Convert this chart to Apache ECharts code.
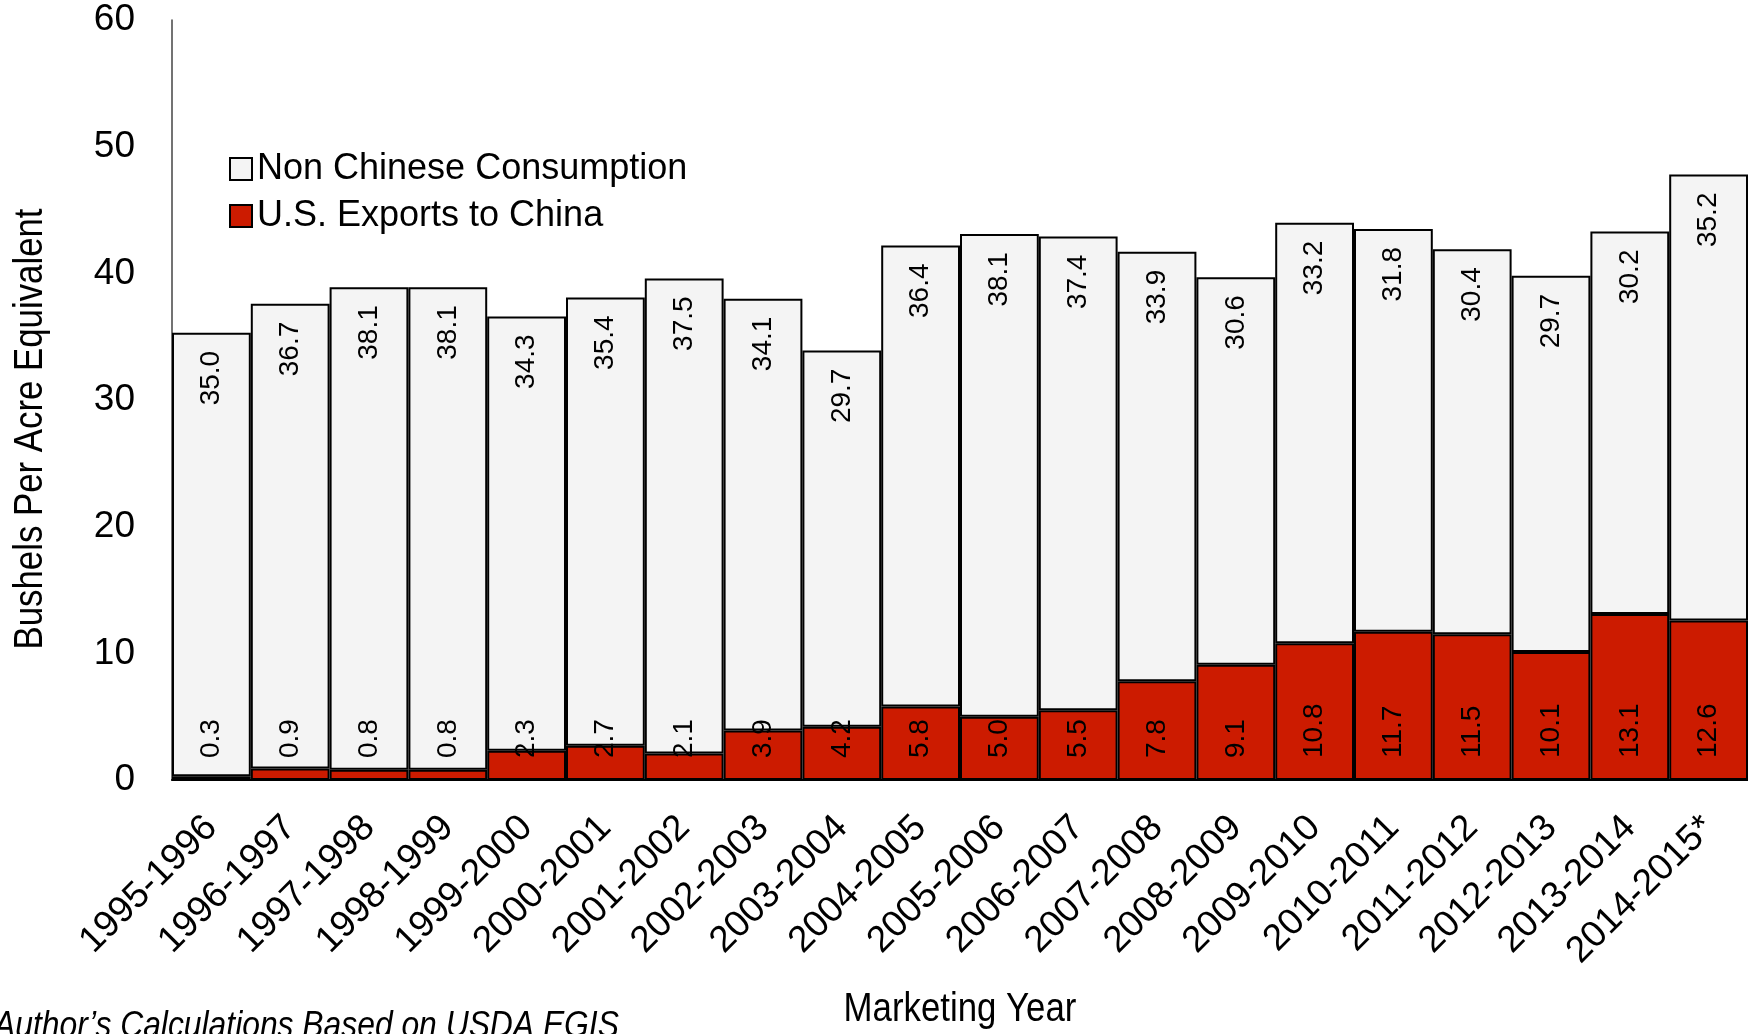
<!DOCTYPE html>
<html><head><meta charset="utf-8">
<script src="https://cdn.jsdelivr.net/npm/echarts@6/dist/echarts.min.js"></script>
<style>html,body{margin:0;padding:0;background:#fff}#c{width:1748px;height:1034px}</style>
</head><body><div id="c"></div>
<script>
const FONT = "'Liberation Sans Narrow', 'Arial Narrow', 'Liberation Sans', Arial, sans-serif";
const categories = ['1995-1996','1996-1997','1997-1998','1998-1999','1999-2000','2000-2001','2001-2002','2002-2003','2003-2004','2004-2005','2005-2006','2006-2007','2007-2008','2008-2009','2009-2010','2010-2011','2011-2012','2012-2013','2013-2014','2014-2015*'];
const exportsToChina = [0.3,0.9,0.8,0.8,2.3,2.7,2.1,3.9,4.2,5.8,5.0,5.5,7.8,9.1,10.8,11.7,11.5,10.1,13.1,12.6];
const nonChinese = [35.0,36.7,38.1,38.1,34.3,35.4,37.5,34.1,29.7,36.4,38.1,37.4,33.9,30.6,33.2,31.8,30.4,29.7,30.2,35.2];
const yTicks = [0,10,20,30,40,50,60];

const chart = echarts.init(document.getElementById('c'));
chart.setOption({
  animation:false,
  textStyle:{fontFamily:FONT},
  grid:{left:172,right:0,top:20,bottom:254,containLabel:false},
  legend:{
    orient:'vertical', left:224, top:146, itemWidth:22, itemHeight:22, itemGap:11,
    icon:'rect',
    data:['Non Chinese Consumption','U.S. Exports to China'],
    textStyle:{fontSize:36,color:'#000',fontFamily:FONT}
  },
  xAxis:{
    type:'category', data:categories,
    axisLine:{show:true,lineStyle:{color:'#000',width:2}},
    axisTick:{show:false},
    axisLabel:{rotate:45,interval:0,fontSize:37,color:'#000',margin:42,fontFamily:FONT}
  },
  yAxis:{
    type:'value', min:yTicks[0], max:yTicks[yTicks.length-1], interval:10,
    splitLine:{show:false},
    axisLine:{show:true,lineStyle:{color:'#444',width:1.5}},
    axisTick:{show:false},
    axisLabel:{fontSize:37,color:'#000',margin:37,fontFamily:FONT}
  },
  graphic:[
    {type:'text',x:31,y:429,rotation:Math.PI/2,scaleX:0.87,style:{text:'Bushels Per Acre Equivalent',font:"40px 'Liberation Sans', sans-serif",fill:'#000',textAlign:'center',textVerticalAlign:'middle'}},
    {type:'text',x:960,y:1010,scaleX:0.87,style:{text:'Marketing Year',font:"40px 'Liberation Sans', sans-serif",fill:'#000',textAlign:'center',textVerticalAlign:'middle'}},
    {type:'text',x:-6,y:1008,scaleX:0.86,style:{text:'Author\u2019s Calculations Based on USDA EGIS',font:"italic 37px 'Liberation Sans', sans-serif",fill:'#000',textAlign:'left',textVerticalAlign:'top'}}
  ],
  series:[
    {
      name:'U.S. Exports to China', type:'bar', stack:'t', data:exportsToChina,
      barCategoryGap:0,
      itemStyle:{color:'#cc1b00',borderColor:'#000',borderWidth:2},
      label:{show:true,position:'insideBottom',rotate:90,align:'left',verticalAlign:'middle',distance:22,
        fontSize:28,color:'#000',fontFamily:FONT,formatter:p=>p.value.toFixed(1)}
    },
    {
      name:'Non Chinese Consumption', type:'bar', stack:'t', data:nonChinese,
      barCategoryGap:0,
      itemStyle:{color:'#f4f4f4',borderColor:'#000',borderWidth:2},
      label:{show:true,position:'insideTop',rotate:90,align:'right',verticalAlign:'middle',distance:18,
        fontSize:28,color:'#000',fontFamily:FONT,formatter:p=>p.value.toFixed(1)}
    }
  ]
});
</script></body></html>
